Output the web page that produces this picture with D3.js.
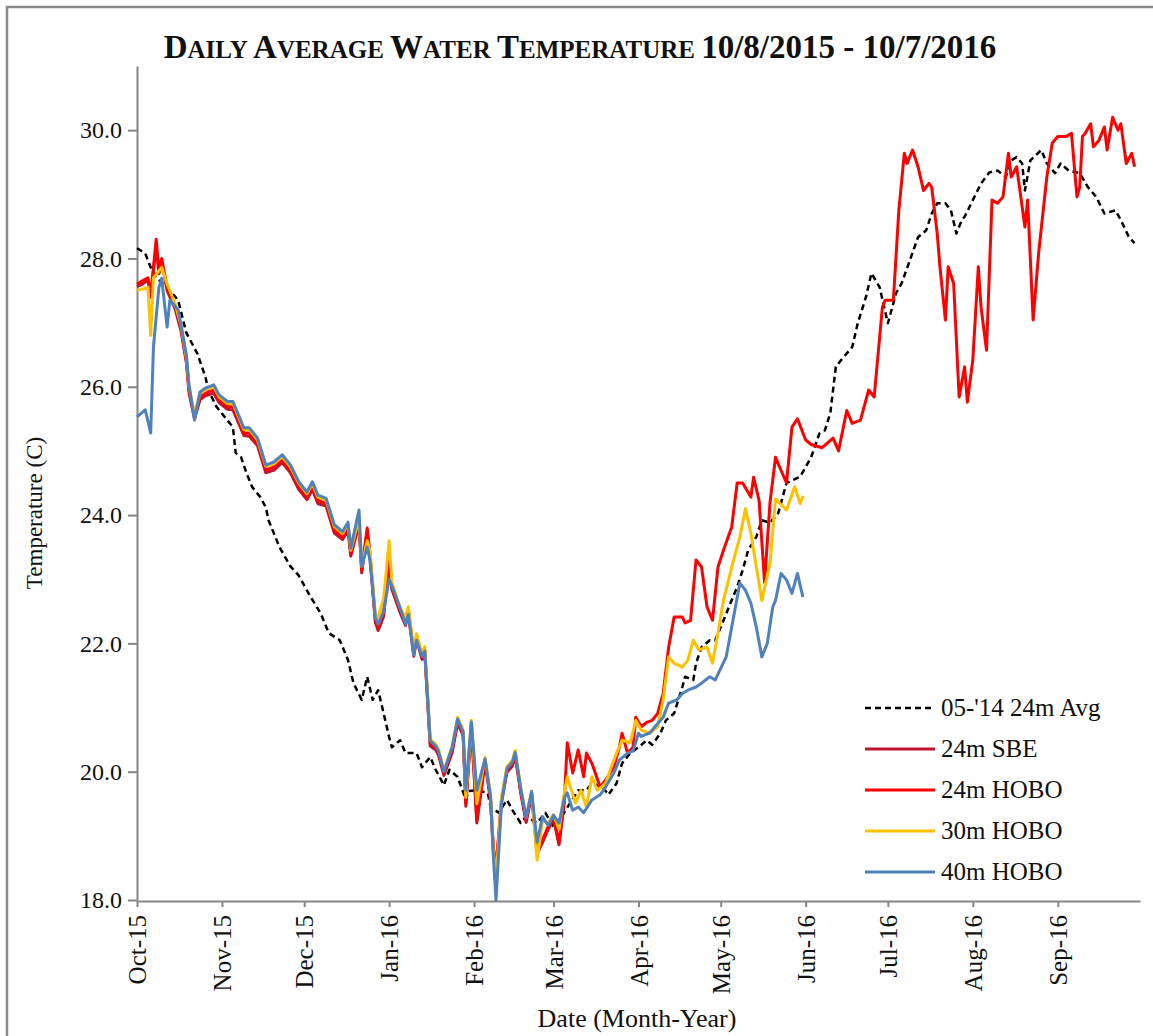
<!DOCTYPE html>
<html>
<head>
<meta charset="utf-8">
<script src="https://d3js.org/d3.v7.min.js"></script>
<style>
  body { margin: 0; background: #fff; }
  text { font-family: "Liberation Serif", "Times New Roman", serif; fill: #111; }
</style>
</head>
<body>
<script>
// Series: [date, daily mean temperature C]
const avg0514 = [["2015-10-08",28.16],["2015-10-11",28.08],["2015-10-13",27.86],["2015-10-15",27.7],["2015-10-19",27.55],["2015-10-23",27.35],["2015-10-26",26.84],["2015-10-30",26.52],["2015-11-02",26.15],["2015-11-03",25.95],["2015-11-06",25.69],["2015-11-09",25.53],["2015-11-12",25.37],["2015-11-13",24.97],["2015-11-15",24.9],["2015-11-17",24.65],["2015-11-19",24.44],["2015-11-22",24.28],["2015-11-24",24.12],["2015-11-25",23.92],["2015-11-29",23.5],["2015-12-03",23.2],["2015-12-06",23.06],["2015-12-10",22.75],["2015-12-14",22.47],["2015-12-17",22.16],["2015-12-21",22.05],["2015-12-24",21.74],["2015-12-26",21.38],["2015-12-29",21.12],["2015-12-31",21.48],["2016-01-02",21.12],["2016-01-04",21.27],["2016-01-06",20.91],["2016-01-08",20.54],["2016-01-09",20.38],["2016-01-12",20.49],["2016-01-14",20.29],["2016-01-18",20.29],["2016-01-20",20.07],["2016-01-23",20.23],["2016-01-25",20.03],["2016-01-28",19.79],["2016-01-30",20.03],["2016-02-02",19.92],["2016-02-05",19.56],["2016-02-06",19.7],["2016-02-09",19.71],["2016-02-13",19.67],["2016-02-14",19.45],["2016-02-17",19.36],["2016-02-20",19.56],["2016-02-22",19.4],["2016-02-25",19.2],["2016-02-27",19.3],["2016-03-02",19.2],["2016-03-05",19.36],["2016-03-08",19.14],["2016-03-11",19.3],["2016-03-14",19.51],["2016-03-17",19.71],["2016-03-20",19.71],["2016-03-22",19.82],["2016-03-26",19.76],["2016-03-28",19.64],["2016-03-31",19.82],["2016-04-02",20.13],["2016-04-05",20.29],["2016-04-08",20.38],["2016-04-11",20.49],["2016-04-13",20.42],["2016-04-16",20.6],["2016-04-18",20.8],["2016-04-21",20.91],["2016-04-24",21.32],["2016-04-25",21.48],["2016-04-28",21.43],["2016-04-29",21.69],["2016-05-01",21.94],["2016-05-04",22.05],["2016-05-06",22.05],["2016-05-08",22.25],["2016-05-11",22.57],["2016-05-14",22.88],["2016-05-16",23.14],["2016-05-18",23.45],["2016-05-21",23.66],["2016-05-23",23.92],["2016-05-26",23.88],["2016-05-29",24.03],["2016-06-01",24.5],["2016-06-06",24.6],["2016-06-10",24.9],["2016-06-13",25.27],["2016-06-15",25.32],["2016-06-17",25.59],["2016-06-19",26.31],["2016-06-21",26.42],["2016-06-25",26.62],["2016-06-27",26.99],["2016-06-30",27.4],["2016-07-02",27.77],["2016-07-05",27.55],["2016-07-08",26.99],["2016-07-11",27.46],["2016-07-13",27.61],["2016-07-16",27.97],["2016-07-19",28.33],["2016-07-22",28.44],["2016-07-24",28.7],["2016-07-26",28.86],["2016-07-29",28.86],["2016-07-31",28.75],["2016-08-02",28.39],["2016-08-04",28.6],["2016-08-05",28.65],["2016-08-08",28.91],["2016-08-11",29.17],["2016-08-14",29.34],["2016-08-17",29.37],["2016-08-20",29.27],["2016-08-22",29.53],["2016-08-24",29.58],["2016-08-26",29.48],["2016-08-27",29.06],["2016-08-29",29.53],["2016-09-02",29.69],["2016-09-04",29.48],["2016-09-07",29.33],["2016-09-09",29.48],["2016-09-12",29.37],["2016-09-16",29.33],["2016-09-19",29.11],["2016-09-22",28.96],["2016-09-25",28.7],["2016-09-29",28.75],["2016-10-01",28.6],["2016-10-04",28.33],["2016-10-06",28.24]];

const sbe24 = [["2015-10-08",27.56],["2015-10-10",27.6],["2015-10-12",27.66],["2015-10-13",27.45],["2015-10-15",28.2],["2015-10-16",27.76],["2015-10-17",27.95],["2015-10-19",27.5],["2015-10-22",27.2],["2015-10-24",26.88],["2015-10-26",26.38],["2015-10-27",25.9],["2015-10-29",25.5],["2015-10-31",25.8],["2015-11-02",25.86],["2015-11-05",25.9],["2015-11-07",25.75],["2015-11-10",25.65],["2015-11-12",25.64],["2015-11-16",25.24],["2015-11-18",25.23],["2015-11-21",25.08],["2015-11-24",24.66],["2015-11-27",24.7],["2015-11-30",24.82],["2015-12-03",24.66],["2015-12-06",24.4],["2015-12-09",24.24],["2015-12-11",24.4],["2015-12-13",24.18],["2015-12-16",24.14],["2015-12-19",23.72],["2015-12-22",23.62],["2015-12-24",23.76],["2015-12-25",23.36],["2015-12-28",23.85],["2015-12-29",23.1],["2015-12-31",23.75],["2016-01-01",23.35],["2016-01-03",22.32],["2016-01-04",22.2],["2016-01-06",22.42],["2016-01-08",23.3],["2016-01-09",22.84],["2016-01-12",22.48],["2016-01-14",22.28],["2016-01-15",22.48],["2016-01-17",21.8],["2016-01-18",22.06],["2016-01-20",21.75],["2016-01-21",21.86],["2016-01-23",20.4],["2016-01-25",20.34],["2016-01-26",20.26],["2016-01-28",19.94],["2016-01-31",20.3],["2016-02-02",20.76],["2016-02-04",20.56],["2016-02-05",19.46],["2016-02-07",20.72],["2016-02-09",19.2],["2016-02-12",20.14],["2016-02-14",19.56],["2016-02-15",18.8],["2016-02-16",18.45],["2016-02-18",19.52],["2016-02-20",19.99],["2016-02-22",20.09],["2016-02-23",20.25],["2016-02-25",19.67],["2016-02-27",19.21],["2016-02-29",19.63],["2016-03-02",18.72],["2016-03-04",18.9],["2016-03-06",19.1],["2016-03-08",19.26],["2016-03-10",18.86],["2016-03-12",19.55]];

const hobo24 = [["2015-10-08",27.6],["2015-10-10",27.65],["2015-10-12",27.7],["2015-10-13",27.4],["2015-10-15",28.3],["2015-10-16",27.8],["2015-10-17",28.0],["2015-10-19",27.55],["2015-10-22",27.24],["2015-10-24",26.93],["2015-10-26",26.42],["2015-10-27",25.95],["2015-10-29",25.53],["2015-10-31",25.84],["2015-11-02",25.9],["2015-11-05",25.95],["2015-11-07",25.79],["2015-11-10",25.69],["2015-11-12",25.69],["2015-11-16",25.28],["2015-11-18",25.28],["2015-11-21",25.12],["2015-11-24",24.7],["2015-11-27",24.75],["2015-11-30",24.86],["2015-12-03",24.7],["2015-12-06",24.44],["2015-12-09",24.28],["2015-12-11",24.44],["2015-12-13",24.23],["2015-12-16",24.18],["2015-12-19",23.77],["2015-12-22",23.66],["2015-12-24",23.81],["2015-12-25",23.4],["2015-12-28",23.9],["2015-12-29",23.14],["2015-12-31",23.8],["2016-01-01",23.4],["2016-01-03",22.36],["2016-01-04",22.25],["2016-01-06",22.47],["2016-01-08",23.4],["2016-01-09",22.88],["2016-01-12",22.52],["2016-01-14",22.32],["2016-01-15",22.52],["2016-01-17",21.85],["2016-01-18",22.1],["2016-01-20",21.79],["2016-01-21",21.9],["2016-01-23",20.45],["2016-01-25",20.38],["2016-01-26",20.3],["2016-01-28",19.98],["2016-01-31",20.34],["2016-02-02",20.8],["2016-02-04",20.6],["2016-02-05",19.5],["2016-02-07",20.76],["2016-02-09",19.25],["2016-02-12",20.18],["2016-02-14",19.6],["2016-02-15",18.83],["2016-02-16",18.5],["2016-02-18",19.56],["2016-02-20",20.03],["2016-02-22",20.13],["2016-02-23",20.29],["2016-02-25",19.71],["2016-02-27",19.25],["2016-02-29",19.67],["2016-03-02",18.75],["2016-03-04",18.94],["2016-03-06",19.14],["2016-03-08",19.3],["2016-03-10",18.89],["2016-03-12",19.6],["2016-03-13",20.45],["2016-03-15",19.98],["2016-03-17",20.34],["2016-03-19",19.92],["2016-03-20",20.29],["2016-03-22",20.13],["2016-03-25",19.76],["2016-03-27",19.87],["2016-03-30",20.07],["2016-04-01",20.38],["2016-04-02",20.6],["2016-04-04",20.29],["2016-04-06",20.38],["2016-04-07",20.85],["2016-04-09",20.7],["2016-04-11",20.77],["2016-04-13",20.8],["2016-04-15",20.91],["2016-04-17",21.22],["2016-04-19",21.94],["2016-04-21",22.41],["2016-04-24",22.41],["2016-04-25",22.32],["2016-04-27",22.36],["2016-04-29",23.3],["2016-05-01",23.19],["2016-05-03",22.57],["2016-05-05",22.36],["2016-05-07",23.19],["2016-05-09",23.45],["2016-05-12",23.81],["2016-05-14",24.5],["2016-05-16",24.5],["2016-05-19",24.28],["2016-05-20",24.59],["2016-05-22",24.23],["2016-05-24",22.95],["2016-05-26",24.2],["2016-05-28",24.9],["2016-06-01",24.5],["2016-06-03",25.37],["2016-06-05",25.5],["2016-06-08",25.17],["2016-06-10",25.1],["2016-06-14",25.05],["2016-06-18",25.2],["2016-06-20",25.0],["2016-06-23",25.63],["2016-06-25",25.43],["2016-06-28",25.48],["2016-07-01",25.95],["2016-07-03",25.84],["2016-07-06",27.24],["2016-07-07",27.35],["2016-07-10",27.35],["2016-07-12",28.75],["2016-07-14",29.64],["2016-07-15",29.48],["2016-07-17",29.69],["2016-07-19",29.43],["2016-07-21",29.06],["2016-07-23",29.17],["2016-07-24",29.11],["2016-07-26",28.39],["2016-07-27",27.87],["2016-07-29",27.04],["2016-07-30",27.87],["2016-08-01",27.61],["2016-08-03",25.84],["2016-08-05",26.31],["2016-08-06",25.76],["2016-08-08",26.42],["2016-08-10",27.87],["2016-08-11",27.24],["2016-08-13",26.57],["2016-08-15",28.91],["2016-08-17",28.86],["2016-08-19",28.96],["2016-08-21",29.64],["2016-08-22",29.27],["2016-08-24",29.43],["2016-08-27",28.49],["2016-08-28",28.91],["2016-08-30",27.04],["2016-09-01",28.08],["2016-09-04",29.27],["2016-09-06",29.8],["2016-09-08",29.9],["2016-09-11",29.9],["2016-09-13",29.95],["2016-09-15",28.96],["2016-09-16",29.11],["2016-09-17",29.9],["2016-09-18",29.95],["2016-09-20",30.1],["2016-09-21",29.74],["2016-09-23",29.84],["2016-09-25",30.05],["2016-09-26",29.69],["2016-09-28",30.2],["2016-09-30",30.0],["2016-10-01",30.1],["2016-10-03",29.48],["2016-10-05",29.64],["2016-10-06",29.43]];

const hobo30 = [["2015-10-08",27.5],["2015-10-12",27.55],["2015-10-13",26.8],["2015-10-14",27.7],["2015-10-17",27.86],["2015-10-19",27.6],["2015-10-22",27.28],["2015-10-24",26.97],["2015-10-26",26.46],["2015-10-27",26.0],["2015-10-29",25.58],["2015-10-31",25.9],["2015-11-02",25.95],["2015-11-05",26.0],["2015-11-07",25.84],["2015-11-10",25.74],["2015-11-12",25.74],["2015-11-16",25.33],["2015-11-18",25.33],["2015-11-21",25.17],["2015-11-24",24.76],["2015-11-27",24.8],["2015-11-30",24.91],["2015-12-03",24.75],["2015-12-06",24.5],["2015-12-09",24.33],["2015-12-11",24.49],["2015-12-13",24.28],["2015-12-16",24.23],["2015-12-19",23.82],["2015-12-22",23.71],["2015-12-24",23.86],["2015-12-25",23.45],["2015-12-28",23.95],["2015-12-29",23.2],["2015-12-31",23.6],["2016-01-01",23.45],["2016-01-03",22.45],["2016-01-04",22.4],["2016-01-06",22.7],["2016-01-08",23.6],["2016-01-09",22.95],["2016-01-12",22.56],["2016-01-14",22.4],["2016-01-15",22.57],["2016-01-17",21.9],["2016-01-18",22.15],["2016-01-20",21.84],["2016-01-21",21.95],["2016-01-23",20.5],["2016-01-25",20.43],["2016-01-26",20.35],["2016-01-28",20.02],["2016-01-31",20.4],["2016-02-02",20.85],["2016-02-04",20.65],["2016-02-05",19.6],["2016-02-07",20.8],["2016-02-09",19.5],["2016-02-12",20.22],["2016-02-14",19.65],["2016-02-15",18.8],["2016-02-16",18.3],["2016-02-18",19.6],["2016-02-20",20.08],["2016-02-22",20.18],["2016-02-23",20.33],["2016-02-25",19.76],["2016-02-27",19.3],["2016-02-29",19.7],["2016-03-02",18.62],["2016-03-04",19.25],["2016-03-06",19.2],["2016-03-08",19.33],["2016-03-10",19.1],["2016-03-12",19.7],["2016-03-13",19.92],["2016-03-16",19.51],["2016-03-18",19.71],["2016-03-20",19.45],["2016-03-22",19.92],["2016-03-24",19.71],["2016-03-27",19.82],["2016-03-29",20.07],["2016-03-31",20.29],["2016-04-02",20.49],["2016-04-05",20.45],["2016-04-07",20.8],["2016-04-09",20.65],["2016-04-12",20.6],["2016-04-15",20.7],["2016-04-17",21.12],["2016-04-19",21.79],["2016-04-21",21.69],["2016-04-24",21.63],["2016-04-26",21.74],["2016-04-28",22.05],["2016-04-30",21.9],["2016-05-03",21.94],["2016-05-05",21.69],["2016-05-07",22.16],["2016-05-09",22.67],["2016-05-12",23.19],["2016-05-15",23.66],["2016-05-17",24.1],["2016-05-19",23.72],["2016-05-21",23.19],["2016-05-23",22.67],["2016-05-26",23.25],["2016-05-28",24.25],["2016-06-01",24.08],["2016-06-04",24.44],["2016-06-06",24.18],["2016-06-07",24.3]];

const hobo40 = [["2015-10-08",25.53],["2015-10-11",25.64],["2015-10-13",25.28],["2015-10-14",26.62],["2015-10-16",27.55],["2015-10-17",27.69],["2015-10-19",26.93],["2015-10-20",27.35],["2015-10-23",27.2],["2015-10-24",26.98],["2015-10-26",26.5],["2015-10-27",26.02],["2015-10-29",25.48],["2015-10-31",25.92],["2015-11-02",25.98],["2015-11-05",26.03],["2015-11-07",25.87],["2015-11-10",25.77],["2015-11-12",25.77],["2015-11-16",25.36],["2015-11-18",25.36],["2015-11-21",25.2],["2015-11-24",24.78],["2015-11-27",24.83],["2015-11-30",24.94],["2015-12-03",24.78],["2015-12-06",24.52],["2015-12-09",24.36],["2015-12-11",24.52],["2015-12-13",24.31],["2015-12-16",24.26],["2015-12-19",23.85],["2015-12-22",23.74],["2015-12-24",23.89],["2015-12-25",23.48],["2015-12-28",24.08],["2015-12-29",23.2],["2015-12-31",23.5],["2016-01-01",23.3],["2016-01-03",22.4],["2016-01-04",22.3],["2016-01-06",22.5],["2016-01-08",23.0],["2016-01-09",22.9],["2016-01-12",22.55],["2016-01-14",22.3],["2016-01-15",22.45],["2016-01-17",21.82],["2016-01-18",22.05],["2016-01-20",21.8],["2016-01-21",21.88],["2016-01-23",20.48],["2016-01-25",20.4],["2016-01-26",20.32],["2016-01-28",20.0],["2016-01-31",20.38],["2016-02-02",20.82],["2016-02-04",20.62],["2016-02-05",19.71],["2016-02-07",20.78],["2016-02-09",19.71],["2016-02-12",20.2],["2016-02-14",19.62],["2016-02-15",18.7],["2016-02-16",18.0],["2016-02-18",19.5],["2016-02-20",20.05],["2016-02-22",20.15],["2016-02-23",20.3],["2016-02-25",19.74],["2016-02-27",19.28],["2016-02-29",19.69],["2016-03-02",18.9],["2016-03-04",19.3],["2016-03-06",19.16],["2016-03-08",19.32],["2016-03-10",19.2],["2016-03-12",19.6],["2016-03-13",19.67],["2016-03-15",19.4],["2016-03-17",19.45],["2016-03-19",19.36],["2016-03-22",19.56],["2016-03-25",19.64],["2016-03-27",19.76],["2016-03-30",19.98],["2016-04-01",20.18],["2016-04-04",20.29],["2016-04-06",20.32],["2016-04-08",20.6],["2016-04-09",20.55],["2016-04-12",20.6],["2016-04-14",20.7],["2016-04-17",20.85],["2016-04-19",21.07],["2016-04-22",21.12],["2016-04-24",21.22],["2016-04-26",21.27],["2016-04-29",21.32],["2016-05-01",21.38],["2016-05-04",21.48],["2016-05-06",21.43],["2016-05-10",21.79],["2016-05-12",22.25],["2016-05-15",22.94],["2016-05-17",22.83],["2016-05-19",22.63],["2016-05-21",22.25],["2016-05-23",21.79],["2016-05-25",22.0],["2016-05-27",22.57],["2016-05-28",22.67],["2016-05-30",23.09],["2016-06-01",22.99],["2016-06-03",22.78],["2016-06-05",23.09],["2016-06-07",22.72]];

const seriesNames = ["05-'14 24m Avg", "24m SBE", "24m HOBO", "30m HOBO", "40m HOBO"];
const monthTicks = ["2015-10-08","2015-11-08","2015-12-08","2016-01-08","2016-02-08","2016-03-08","2016-04-08","2016-05-08","2016-06-08","2016-07-08","2016-08-08","2016-09-08"];
const yTicks = [18, 20, 22, 24, 26, 28, 30];
const xRange = ["2015-10-08", "2016-10-08"];

const parse = d3.timeParse("%Y-%m-%d");

const svg = d3.select("body").append("svg")
  .attr("width", 1153)
  .attr("height", 1036);

// outer frame (left + top edges visible)
svg.append("path")
  .attr("d", "M7,1036V7H1153")
  .attr("fill", "none")
  .attr("stroke", "#8a8a8a")
  .attr("stroke-width", 2.5);

const plotLeft = 137, plotRight = 1140, plotTop = 66, plotBottom = 901;

const x = d3.scaleTime()
  .domain(xRange.map(parse))
  .range([plotLeft, plotRight]);

const y = d3.scaleLinear()
  .domain([18, 31])
  .range([900, plotTop]);

// title, drawn in small caps
const title = svg.append("text")
  .attr("x", 580)
  .attr("y", 58)
  .attr("text-anchor", "middle")
  .style("font-weight", "bold");
[["D","aily "],["A","verage "],["W","ater "],["T","emperature "]].forEach(function(w) {
  title.append("tspan").style("font-size", "33px").text(w[0]);
  title.append("tspan").style("font-size", "25px").text(w[1].toUpperCase());
});
title.append("tspan").style("font-size", "33px").text("10/8/2015 - 10/7/2016");

// X axis
const xAxis = svg.append("g")
  .attr("transform", "translate(0," + plotBottom + ")")
  .call(d3.axisBottom(x)
    .tickValues(monthTicks.map(parse))
    .tickFormat(d3.timeFormat("%b-%y"))
    .tickSize(6)
    .tickSizeOuter(0));

xAxis.selectAll("text")
  .attr("transform", "rotate(-90)")
  .attr("text-anchor", "end")
  .attr("x", -14)
  .attr("y", 0)
  .attr("dy", "0.35em")
  .style("font-size", "25px");

// Y axis
const yAxis = svg.append("g")
  .attr("transform", "translate(" + plotLeft + ",0)")
  .call(d3.axisLeft(y)
    .tickValues(yTicks)
    .tickFormat(d3.format(".1f"))
    .tickSize(9)
    .tickPadding(6)
    .tickSizeOuter(0));

yAxis.selectAll("text").style("font-size", "24px");

svg.selectAll(".domain, .tick line")
  .attr("stroke", "#868686")
  .attr("stroke-width", 2);

// axis titles
svg.append("text")
  .attr("transform", "translate(42,513) rotate(-90)")
  .attr("text-anchor", "middle")
  .style("font-size", "23px")
  .text("Temperature (C)");

svg.append("text")
  .attr("x", 637)
  .attr("y", 1027)
  .attr("text-anchor", "middle")
  .style("font-size", "26px")
  .text("Date (Month-Year)");

// lines
const line = d3.line()
  .x(function(d) { return x(parse(d[0])); })
  .y(function(d) { return y(d[1]); });

const series = [
  { data: avg0514, color: "#000000", width: 2.5, dash: "6,4" },
  { data: sbe24, color: "#C0142E", width: 3, dash: null },
  { data: hobo24, color: "#FF0000", width: 3, dash: null },
  { data: hobo30, color: "#FFC000", width: 3, dash: null },
  { data: hobo40, color: "#4F81BD", width: 3, dash: null }
];

series.forEach(function(s) {
  svg.append("path")
    .datum(s.data)
    .attr("d", line)
    .attr("fill", "none")
    .attr("stroke", s.color)
    .attr("stroke-width", s.width)
    .attr("stroke-linejoin", "round")
    .attr("stroke-dasharray", s.dash);
});

// legend
const legend = svg.append("g");
seriesNames.forEach(function(name, i) {
  const ly = 708 + i * 41;
  legend.append("line")
    .attr("x1", 865).attr("x2", 935)
    .attr("y1", ly).attr("y2", ly)
    .attr("stroke", series[i].color)
    .attr("stroke-width", series[i].width)
    .attr("stroke-dasharray", series[i].dash);
  legend.append("text")
    .attr("x", 941)
    .attr("y", ly)
    .attr("dy", "0.33em")
    .style("font-size", "25px")
    .text(name);
});
</script>
</body>
</html>
